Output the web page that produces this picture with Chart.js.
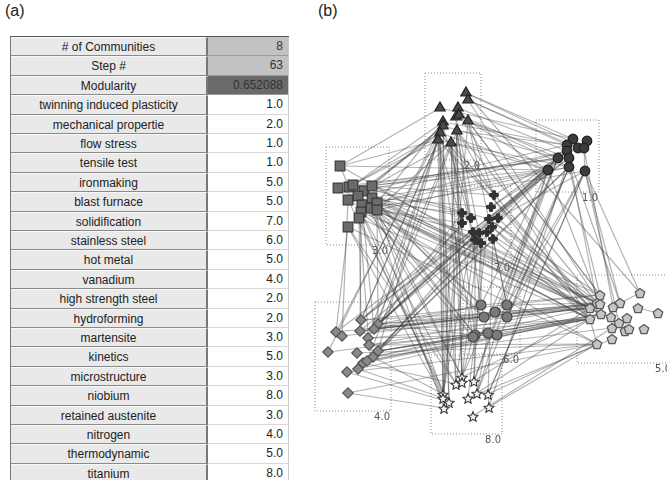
<!DOCTYPE html>
<html>
<head>
<meta charset="utf-8">
<script src="https://cdn.jsdelivr.net/npm/chart.js@4/dist/chart.umd.min.js"></script>
<style>
body { margin:0; background:#fff; width:667px; height:480px; overflow:hidden; position:relative; font-family:"Liberation Sans", Arial, sans-serif; }
.tag { position:absolute; top:2px; font-size:16px; color:#222; }
#tbl { position:absolute; left:10px; top:36px; width:278px; height:450px; border-top:1px solid #555; border-left:1px solid #777; }
.cell { position:absolute; box-sizing:border-box; font-size:12px; color:#222; line-height:18px; white-space:nowrap; }
.lab { background:#e9e9e9; text-align:center; border-bottom:1px solid #8a8a8a; border-top:1px solid #f8f8f8; border-right:2px solid #777; }
.val { background:#fff; text-align:right; padding-right:5px; border-bottom:1px solid #d8d8d8; border-right:1px solid #ccc; }
#wrap { position:absolute; left:310px; top:30px; width:357px; height:450px; }
</style>
</head>
<body>
<div class="tag" style="left:5px">(a)</div>
<div class="tag" style="left:318px">(b)</div>
<div id="tbl"></div>
<div id="wrap"><canvas id="net"></canvas></div>
<script>
// table (a)
var statLabels = ["# of Communities", "Step #", "Modularity"];
var statValues = ["8", "63", "0.652088"];
var termLabels = ["twinning induced plasticity", "mechanical propertie", "flow stress", "tensile test",
    "ironmaking", "blast furnace", "solidification", "stainless steel", "hot metal", "vanadium",
    "high strength steel", "hydroforming", "martensite", "kinetics", "microstructure", "niobium",
    "retained austenite", "nitrogen", "thermodynamic", "titanium"];
var termCommunity = [1, 2, 1, 1, 5, 5, 7, 6, 5, 4, 2, 2, 3, 5, 3, 8, 3, 4, 5, 8];

// network (b): node positions per community
var comm1 = [[573,139],[587,141],[567,145],[578,148],[584,148],[567,151],[569,158],[558,158],[569,167],[548,170],[585,171]];
var comm2 = [[466,93],[468,100],[440,108],[458,108],[456,117],[459,115],[443,122],[468,121],[443,126],[457,131],[440,133],[438,140],[451,143]];
var comm3 = [[340,166],[338,188],[349,187],[353,185],[364,191],[372,186],[358,196],[348,200],[372,198],[362,205],[371,208],[377,203],[377,210],[361,212],[359,218],[348,227]];
var comm4 = [[361,320],[378,324],[336,332],[342,336],[360,331],[374,329],[368,338],[369,345],[328,352],[357,353],[378,351],[373,357],[363,363],[367,361],[347,372],[358,369],[348,393]];
var comm5 = [[600,295],[640,293],[597,303],[600,304],[620,303],[613,307],[638,308],[658,313],[590,308],[601,314],[611,317],[627,318],[590,319],[619,323],[644,329],[612,328],[625,331],[629,329],[612,339],[597,344]];
var comm6 = [[481,305],[495,312],[484,317],[507,305],[507,317],[475,335],[473,337],[488,333],[497,335]];
var comm7 = [[494,195],[491,207],[462,213],[471,218],[489,219],[498,218],[462,223],[492,227],[473,232],[479,233],[487,232],[475,240],[481,243],[493,239]];
var comm8 = [[462,377],[456,384],[462,382],[474,381],[443,394],[443,398],[449,402],[468,398],[477,393],[488,394],[444,408],[489,407],[473,416]];

// community boxes: left, top, right, bottom
var boxNames = ["1.0", "2.0", "3.0", "4.0", "5.0", "6.0", "7.0", "8.0"];
var boxLeft = [536, 425, 326, 315, 577, 463, 456, 431];
var boxTop = [120, 73, 147, 302, 275, 287, 186, 355];
var boxRight = [599, 481, 389, 391, 672, 520, 511, 502];
var boxBottom = [192, 160, 245, 411, 363, 354, 262, 434];

// edges "community.node-community.node"
var edgeList = "3.5-5.2 3.8-5.8 3.11-5.3 3.12-5.12 3.10-5.9 3.4-5.0 3.13-5.8 3.9-5.2 3.6-5.12 3.3-5.9 " +
    "3.0-5.8 3.1-5.12 3.2-5.3 3.7-5.19 3.14-5.12 3.15-5.19 3.6-5.9 " +
    "3.0-1.9 3.5-1.7 3.11-1.5 3.4-1.2 3.8-1.9 3.3-1.6 3.12-1.8 3.1-1.9 3.2-1.7 3.6-1.5 3.9-1.8 3.10-1.10 " +
    "3.0-2.11 3.3-2.10 3.5-2.8 3.4-2.12 3.11-2.6 3.2-2.11 " +
    "3.11-7.2 3.12-7.6 3.8-7.3 3.10-7.8 3.5-7.4 " +
    "3.12-6.0 3.10-6.5 3.13-6.2 3.9-6.6 " +
    "3.14-8.4 3.13-8.1 3.15-8.5 3.10-8.10 3.7-8.6 3.12-8.0 " +
    "3.14-4.0 3.15-4.2 3.13-4.4 3.9-4.5 3.7-4.3 3.12-4.1 3.6-4.7 " +
    "2.0-1.0 2.1-1.2 2.3-1.5 2.5-1.7 2.7-1.9 2.9-1.2 2.12-1.9 2.4-1.6 2.1-1.3 2.7-1.8 " +
    "2.2-1.0 2.6-1.2 2.8-1.7 2.10-1.9 2.11-1.8 2.0-1.4 " +
    "2.7-5.0 2.9-5.2 2.12-5.8 2.1-5.3 2.5-5.12 2.0-5.1 2.3-5.0 2.10-5.12 2.11-5.9 " +
    "2.2-3.0 2.6-3.3 2.10-3.7 2.8-3.4 2.12-3.12 " +
    "2.12-7.2 2.9-7.3 2.11-7.6 2.7-7.0 2.8-7.8 2.4-7.9 " +
    "2.11-8.4 2.12-8.1 2.9-8.0 2.10-8.5 2.8-8.10 2.6-8.6 2.4-8.2 " +
    "2.12-6.5 2.9-6.0 2.11-6.6 2.7-6.3 " +
    "2.10-4.1 2.11-4.0 2.12-4.5 2.8-4.6 2.6-4.10 2.9-4.13 " +
    "1.9-4.1 1.7-4.5 1.8-4.10 1.6-4.0 1.5-4.13 " +
    "1.9-8.3 1.8-8.8 1.7-8.0 1.10-8.9 1.6-8.11 " +
    "1.9-6.0 1.8-6.3 1.10-6.4 1.7-6.1 " +
    "1.9-7.5 1.7-7.4 1.8-7.13 1.5-7.1 " +
    "1.10-5.4 1.8-5.0 1.6-5.2 1.9-5.3 1.10-5.13 1.4-5.5 " +
    "7.6-4.1 7.8-4.5 7.11-4.10 7.3-4.0 7.9-4.4 7.12-4.13 7.2-4.6 7.10-4.1 7.13-4.11 " +
    "7.5-5.8 7.13-5.12 7.10-5.2 7.7-5.9 7.4-5.3 7.4-5.0 7.7-5.12 " +
    "7.11-8.1 7.12-8.3 7.9-8.0 7.8-8.4 7.10-8.7 7.13-8.9 7.6-8.5 " +
    "7.11-6.5 7.12-6.0 7.13-6.3 " +
    "7.0-3.5 7.1-3.8 7.2-3.3 7.0-1.7 7.1-1.9 7.5-1.10 7.3-2.12 7.0-2.9 " +
    "4.1-5.2 4.5-5.8 4.10-5.12 4.13-5.9 4.11-5.8 4.7-5.3 4.6-5.12 4.4-5.2 4.0-5.0 4.9-5.19 " +
    "4.12-5.12 4.15-5.9 4.3-5.8 4.8-5.12 4.14-5.19 4.16-5.19 4.2-5.3 " +
    "4.1-5.8 4.5-5.3 4.10-5.9 4.13-5.12 4.7-5.19 4.11-5.15 4.0-5.8 4.4-5.12 " +
    "4.0-1.9 4.1-1.7 4.2-1.6 4.0-2.11 4.2-2.10 4.8-2.6 " +
    "4.1-6.0 4.5-6.2 4.10-6.5 4.11-6.6 4.7-6.7 4.4-6.1 4.6-6.8 " +
    "4.11-8.4 4.15-8.5 4.16-8.10 4.12-8.1 4.14-8.6 " +
    "6.3-5.2 6.4-5.8 6.1-5.3 6.8-5.12 6.7-5.9 6.0-5.0 " +
    "6.0-3.11 6.5-3.12 6.2-3.8 6.3-1.10 6.4-1.8 6.5-4.1 6.6-4.10 6.0-4.5 " +
    "8.8-5.12 8.9-5.19 8.11-5.19 8.7-5.18 8.3-5.8 8.12-5.15 8.0-5.9 " +
    "8.3-6.5 8.8-6.7 8.0-6.6 " +
    "8.0-2.12 8.4-2.9 8.1-2.11 8.5-2.7 8.6-2.10 8.4-3.12 8.1-3.15 8.5-3.13 8.0-3.10 " +
    "8.8-1.9 8.9-1.10 8.3-1.7 5.1-1.10 5.4-1.6 " +
    "1.0-1.3 1.2-1.6 1.7-1.9 1.4-1.10 2.0-2.1 2.3-2.5 2.6-2.8 2.10-2.11 3.0-3.2 3.3-3.4 3.9-3.13 " +
    "4.2-4.3 4.6-4.7 4.12-4.13 5.0-5.3 5.2-5.8 5.4-5.5 5.9-5.10 5.12-5.19 5.1-5.4 5.6-5.7 5.11-5.16 " +
    "6.0-6.2 6.5-6.7 7.2-7.3 7.8-7.9 7.11-7.12 8.0-8.2 8.4-8.5 8.9-8.11";

// ---- table ----
function addCell(cls, text, top, left, width, extra) {
    var d = document.createElement('div');
    d.className = 'cell ' + cls;
    d.textContent = text;
    d.style.top = top + 'px';
    d.style.left = left + 'px';
    d.style.width = width + 'px';
    d.style.height = '19.4px';
    if (extra) {
        for (var k in extra) d.style[k] = extra[k];
    }
    document.getElementById('tbl').appendChild(d);
}

var rowH = 19.4;
var statBg = ['#c2c2c2', '#c2c2c2', '#6a6a6a'];
for (var i = 0; i < statLabels.length; i++) {
    addCell('lab', statLabels[i], i * rowH, 0, 197);
    addCell('val', statValues[i], i * rowH, 197, 81, { background: statBg[i], borderBottom: '1px solid #9a9a9a', color: '#333' });
}
for (var j = 0; j < termLabels.length; j++) {
    var r = j + statLabels.length;
    addCell('lab', termLabels[j], r * rowH, 0, 197);
    addCell('val', termCommunity[j].toFixed(1), r * rowH, 197, 81);
}

// ---- network ----
function makeIcon(kind) {
    var c = document.createElement('canvas');
    c.width = 12; c.height = 12;
    var g = c.getContext('2d');
    var cx = 6, cy = 6, k;
    g.beginPath();
    if (kind == 'pent') {
        for (k = 0; k < 5; k++) {
            var a = -Math.PI / 2 + k * 2 * Math.PI / 5;
            g.lineTo(cx + 5 * Math.cos(a), cy + 0.5 + 5 * Math.sin(a));
        }
        g.closePath();
        g.fillStyle = '#c6c6c6';
        g.fill();
        g.strokeStyle = '#5a5a5a';
        g.lineWidth = 1.3;
        g.stroke();
    } else if (kind == 'star') {
        for (k = 0; k < 10; k++) {
            var b = -Math.PI / 2 + k * Math.PI / 5;
            var rr = (k % 2 == 0) ? 5.3 : 2.4;
            g.lineTo(cx + rr * Math.cos(b), cy + 1 + rr * Math.sin(b));
        }
        g.closePath();
        g.fillStyle = '#f4f4f4';
        g.fill();
        g.strokeStyle = '#3a3a3a';
        g.lineWidth = 1.1;
        g.stroke();
    } else {
        // rounded plus ("clover")
        g.fillStyle = '#333';
        var offs = [[0, -2.9], [2.9, 0], [0, 2.9], [-2.9, 0]];
        offs.forEach(function(o) {
            g.beginPath();
            g.arc(cx + o[0], cy + o[1], 2.2, 0, 2 * Math.PI);
            g.fill();
        });
        g.fillRect(cx - 2, cy - 2, 4, 4);
    }
    return c;
}

var comms = [comm1, comm2, comm3, comm4, comm5, comm6, comm7, comm8];
var nodeStyle = [
    { pointStyle: 'circle', radius: 4.8, bg: '#3c3c3c', border: '#1e1e1e' },
    { pointStyle: 'triangle', radius: 6, bg: '#4a4a4a', border: '#222' },
    { pointStyle: 'rect', radius: 6.8, bg: '#6b6b6b', border: '#3a3a3a' },
    { pointStyle: 'rectRot', radius: 5.2, bg: '#8a8a8a', border: '#555' },
    { pointStyle: makeIcon('pent'), radius: 6, bg: '#c6c6c6', border: '#5a5a5a' },
    { pointStyle: 'circle', radius: 5, bg: '#7a7a7a', border: '#444' },
    { pointStyle: makeIcon('clover'), radius: 5, bg: '#333', border: '#333' },
    { pointStyle: makeIcon('star'), radius: 6, bg: '#f4f4f4', border: '#3a3a3a' }
];

function xy(p) { return { x: p[0], y: p[1] }; }

var datasets = [];
comms.forEach(function(cm, ci) {
    var st = nodeStyle[ci];
    datasets.push({
        data: cm.map(xy),
        pointStyle: st.pointStyle,
        pointRadius: st.radius,
        backgroundColor: st.bg,
        borderColor: st.border,
        borderWidth: 1.2,
        order: 0,
        clip: false
    });
});

edgeList.trim().split(/\s+/).forEach(function(e) {
    var p = e.split('-');
    var a = p[0].split('.'), b = p[1].split('.');
    var na = comms[+a[0] - 1][+a[1]], nb = comms[+b[0] - 1][+b[1]];
    datasets.push({
        data: [xy(na), xy(nb)],
        showLine: true,
        pointRadius: 0,
        borderColor: 'rgba(65,65,65,0.4)',
        borderWidth: 1.2,
        order: 2,
        clip: false
    });
});

boxNames.forEach(function(n, i) {
    datasets.push({
        data: [
            { x: boxLeft[i], y: boxTop[i] }, { x: boxRight[i], y: boxTop[i] },
            { x: boxRight[i], y: boxBottom[i] }, { x: boxLeft[i], y: boxBottom[i] },
            { x: boxLeft[i], y: boxTop[i] }
        ],
        showLine: true,
        pointRadius: 0,
        borderColor: '#8c8c8c',
        borderWidth: 1,
        borderDash: [1, 2],
        order: 3,
        clip: false
    });
});

var boxLabels = {
    id: 'boxLabels',
    afterDatasetsDraw: function(chart) {
        var ctx = chart.ctx;
        var sx = chart.scales.x, sy = chart.scales.y;
        ctx.save();
        ctx.font = '10px "DejaVu Sans", sans-serif';
        ctx.fillStyle = '#555';
        ctx.textAlign = 'right';
        ctx.textBaseline = 'top';
        boxNames.forEach(function(n, i) {
            ctx.fillText(n, sx.getPixelForValue(boxRight[i]) - 1, sy.getPixelForValue(boxBottom[i]) + 1);
        });
        ctx.restore();
    }
};

new Chart(document.getElementById('net').getContext('2d'), {
    type: 'scatter',
    data: { datasets: datasets },
    options: {
        responsive: true,
        maintainAspectRatio: false,
        animation: false,
        layout: { padding: 0, autoPadding: false },
        plugins: { legend: { display: false }, tooltip: { enabled: false } },
        scales: {
            x: { type: 'linear', min: 310, max: 667, display: false },
            y: { type: 'linear', min: 30, max: 480, reverse: true, display: false }
        }
    },
    plugins: [boxLabels]
});
</script>
</body>
</html>
